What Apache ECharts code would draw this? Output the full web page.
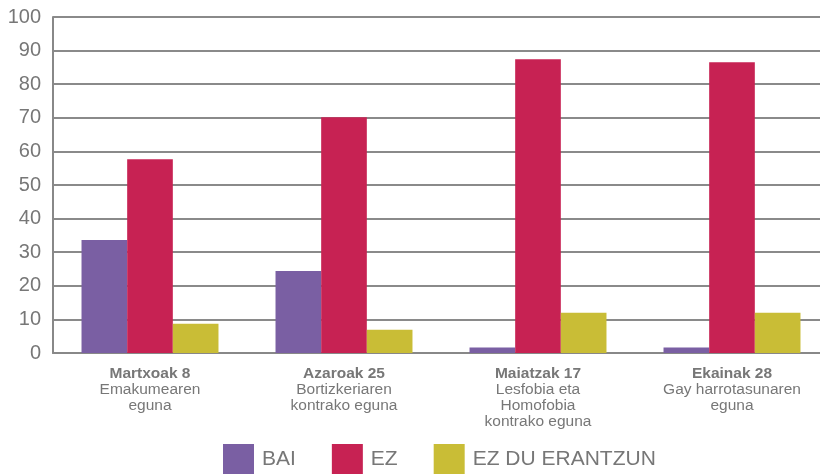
<!DOCTYPE html>
<html>
<head>
<meta charset="utf-8">
<script src="https://cdn.jsdelivr.net/npm/echarts@6/dist/echarts.min.js"></script>
<style>
  html, body { margin: 0; padding: 0; background: #fff; }
  #chart { width: 820px; height: 474px; }
</style>
</head>
<body>
<div id="chart"></div>
<script>
// egunak: lehen lerroa lodia, gainerakoak arruntak
const categories = [
  ['Martxoak 8', 'Emakumearen', 'eguna'],
  ['Azaroak 25', 'Bortizkeriaren', 'kontrako eguna'],
  ['Maiatzak 17', 'Lesfobia eta', 'Homofobia', 'kontrako eguna'],
  ['Ekainak 28', 'Gay harrotasunaren', 'eguna']
];
const seriesNames = ['BAI', 'EZ', 'EZ DU ERANTZUN'];
const baiValues = [33.6, 24.4, 1.6, 1.6];
const ezValues = [57.7, 70.2, 87.4, 86.5];
const ezDuValues = [8.7, 6.9, 12.0, 12.0];
const yTicks = { min: 0, max: 100, interval: 10 };

const colors = ['#7a5fa3', '#c72253', '#c9bd36'];
const textColor = '#777777';
const fontFamily = '"Liberation Sans", Arial, sans-serif';

const chart = echarts.init(document.getElementById('chart'));

// plot area runs past the right edge of the picture (cropped original)
const option = {
  animation: false,
  grid: { left: 53, width: 776, top: 17, height: 336, outerBoundsMode: 'none', containLabel: false },
  legend: {
    left: 218,
    top: 439,
    itemWidth: 31,
    itemHeight: 30,
    itemGap: 36,
    icon: 'rect',
    data: seriesNames,
    textStyle: { color: textColor, fontSize: 21, fontFamily: fontFamily, padding: [2, 0, 0, 3] }
  },
  xAxis: {
    type: 'category',
    data: categories.map(c => c.join('\n')),
    axisLine: { lineStyle: { color: '#888', width: 2 } },
    axisTick: { show: false },
    axisLabel: {
      interval: 0,
      margin: 13,
      formatter: function (v) {
        const lines = v.split('\n');
        return lines.map((l, i) => (i === 0 ? '{b|' + l + '}' : '{n|' + l + '}')).join('\n');
      },
      rich: {
        b: { fontWeight: 'bold', fontSize: 15.5, lineHeight: 16, color: textColor, fontFamily: fontFamily },
        n: { fontSize: 15.5, lineHeight: 16, color: textColor, fontFamily: fontFamily }
      }
    }
  },
  yAxis: {
    type: 'value',
    min: yTicks.min,
    max: yTicks.max,
    interval: yTicks.interval,
    axisLine: { show: true, lineStyle: { color: '#888', width: 2 } },
    axisTick: { show: false },
    splitLine: { lineStyle: { color: '#8a8a8a', width: 2 } },
    axisLabel: { color: textColor, fontSize: 20, fontFamily: fontFamily, margin: 12 }
  },
  series: [
    { name: seriesNames[0], type: 'bar', data: baiValues, itemStyle: { color: colors[0] }, barGap: '0%', barCategoryGap: '29.4%' },
    { name: seriesNames[1], type: 'bar', data: ezValues, itemStyle: { color: colors[1] }, barGap: '0%', barCategoryGap: '29.4%' },
    { name: seriesNames[2], type: 'bar', data: ezDuValues, itemStyle: { color: colors[2] }, barGap: '0%', barCategoryGap: '29.4%' }
  ]
};

chart.setOption(option);
</script>
</body>
</html>
